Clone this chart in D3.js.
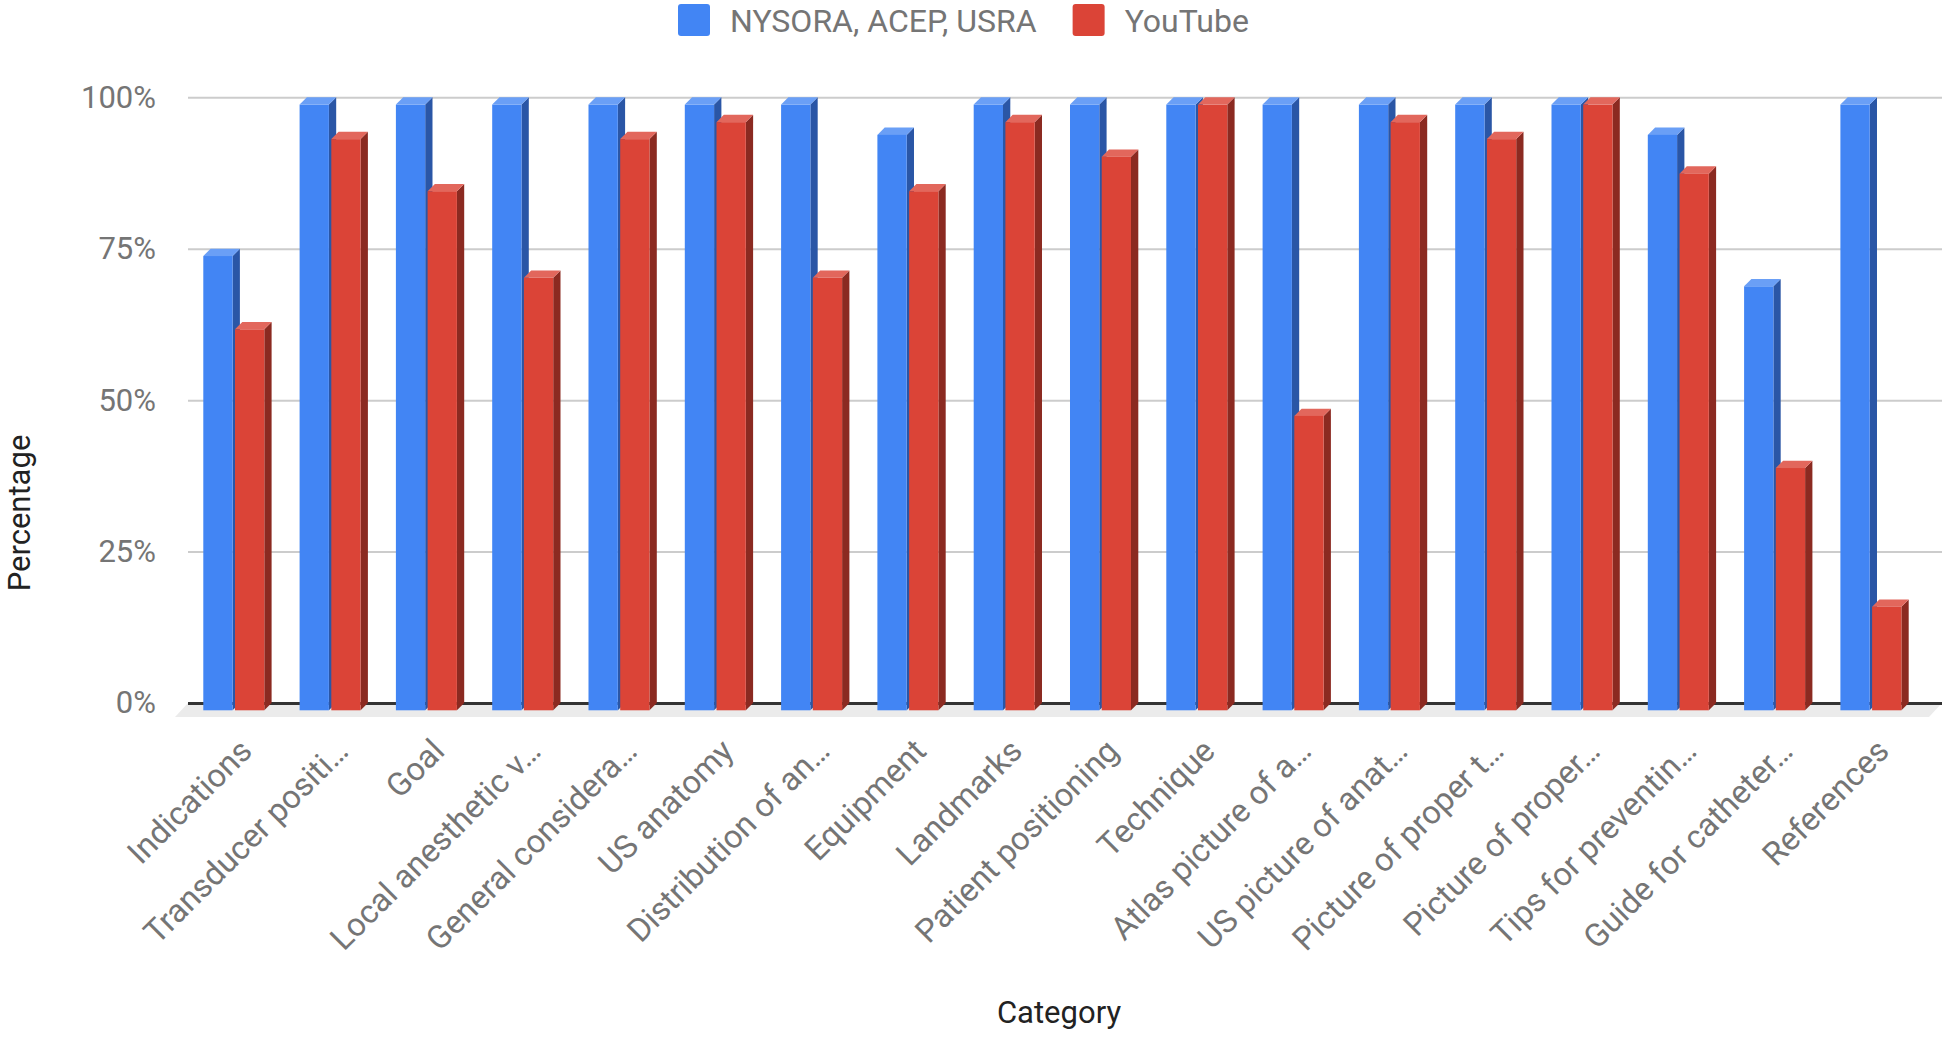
<!DOCTYPE html>
<html>
<head>
<meta charset="utf-8">
<script src="https://cdn.jsdelivr.net/npm/d3@7"></script>
<style>
  html, body { margin: 0; padding: 0; background: #fff; }
  svg { display: block; font-family: Roboto, "Noto Sans", Arial, sans-serif; }
</style>
</head>
<body>
<svg id="chart" width="1946" height="1038"></svg>
<script>
// ---- data ----
const categories = [
  "Indications", "Transducer positi\u2026", "Goal", "Local anesthetic v\u2026",
  "General considera\u2026", "US anatomy", "Distribution of an\u2026", "Equipment",
  "Landmarks", "Patient positioning", "Technique", "Atlas picture of a\u2026",
  "US picture of anat\u2026", "Picture of proper t\u2026", "Picture of proper\u2026",
  "Tips for preventin\u2026", "Guide for catheter\u2026", "References"
];
const seriesNames = ["NYSORA, ACEP, USRA", "YouTube"];
const nysoraValues = [75, 100, 100, 100, 100, 100, 100, 95, 100, 100, 100, 100, 100, 100, 100, 95, 70, 100];
const youtubeValues = [62.9, 94.3, 85.7, 71.4, 94.3, 97.1, 71.4, 85.7, 97.1, 91.4, 100, 48.6, 97.1, 94.3, 100, 88.6, 40.0, 17.1];
const yTickValues = [0, 25, 50, 75, 100];
const axisTitles = { x: "Category", y: "Percentage" };

// ---- styling ----
const colors = {
  front: ["#4285F4", "#DB4437"],
  top:   ["#6A9FF6", "#E2675C"],
  side:  ["#2A56A6", "#8B2A21"]
};
const W = 1946, H = 1038;
const wallLeft = 188, wallRight = 1942;
const depth = 7.3;
const tickFont = 31, labelFont = 32.5, legendFont = 32, titleFont = 31;

const svg = d3.select("#chart");
svg.append("rect").attr("width", W).attr("height", H).attr("fill", "#fff");

// scales
const y = d3.scaleLinear().domain([0, 100]).range([703, 97.3]);
const x = d3.scaleBand().domain(categories).range([185.65, 1919.05])
  .paddingInner(0.3665).paddingOuter(0.3665 / 2);
const x1 = d3.scaleBand().domain(seriesNames).range([0, x.bandwidth()]).paddingInner(0.076);

// floor
const floorDepth = 14;
svg.append("path")
  .attr("d", `M${wallLeft},${y(0)} L${wallRight},${y(0)} L${wallRight - floorDepth + 1},${y(0) + floorDepth} L${wallLeft - floorDepth + 1},${y(0) + floorDepth} Z`)
  .attr("fill", "#ebebeb");

// gridlines + y labels via axis
const yAxis = d3.axisLeft(y)
  .tickValues(yTickValues)
  .tickFormat(d => d + "%")
  .tickSize(-(wallRight - wallLeft))
  .tickPadding(32);
const gy = svg.append("g").attr("transform", `translate(${wallLeft},0)`).call(yAxis);
gy.select(".domain").remove();
gy.selectAll(".tick line").attr("stroke", "#cccccc").attr("stroke-width", 2);
gy.selectAll(".tick text")
  .attr("fill", "#757575")
  .style("font-size", tickFont + "px")
  .style("font-family", "Roboto, sans-serif");
gy.selectAll(".tick").filter(d => d === 0).select("line").attr("stroke", "#333").attr("stroke-width", 3);

// bars
const seriesValues = [nysoraValues, youtubeValues];
const barsG = svg.append("g");
categories.forEach((cat, i) => {
  seriesNames.forEach((s, si) => {
    const v = seriesValues[si][i];
    const w = x1.bandwidth();
    const x0 = x(cat) + x1(s);
    const yT = y(v) + depth;
    const yB = y(0) + depth;
    const g = barsG.append("g");
    g.append("path")
      .attr("d", `M${x0 + w},${yT} L${x0 + w + depth},${yT - depth} L${x0 + w + depth},${yB - depth} L${x0 + w},${yB} Z`)
      .attr("fill", colors.side[si]);
    g.append("path")
      .attr("d", `M${x0},${yT} L${x0 + depth},${yT - depth} L${x0 + w + depth},${yT - depth} L${x0 + w},${yT} Z`)
      .attr("fill", colors.top[si]);
    g.append("rect")
      .attr("x", x0).attr("y", yT).attr("width", w).attr("height", yB - yT)
      .attr("fill", colors.front[si]);
  });
});

// x labels (rotated)
const labelG = svg.append("g");
categories.forEach(cat => {
  const cx = x(cat) + x.bandwidth() / 2 + 20;
  labelG.append("text")
    .attr("transform", `translate(${cx},753) rotate(-45)`)
    .attr("text-anchor", "end")
    .attr("fill", "#757575")
    .style("font-size", labelFont + "px")
    .text(cat);
});

// axis titles
svg.append("text")
  .attr("x", 1059).attr("y", 1023)
  .attr("text-anchor", "middle")
  .attr("fill", "#222")
  .style("font-size", titleFont + "px")
  .text(axisTitles.x);
svg.append("text")
  .attr("transform", "translate(30,513) rotate(-90)")
  .attr("text-anchor", "middle")
  .attr("fill", "#222")
  .style("font-size", titleFont + "px")
  .text(axisTitles.y);

// legend
const legendG = svg.append("g");
let lx = 678;
seriesNames.forEach((s, si) => {
  legendG.append("rect")
    .attr("x", lx).attr("y", 4).attr("width", 32).attr("height", 32).attr("rx", 3)
    .attr("fill", colors.front[si]);
  const t = legendG.append("text")
    .attr("x", lx + 52).attr("y", 31.5)
    .attr("fill", "#757575")
    .style("font-size", legendFont + "px")
    .text(s);
  lx = lx + 52 + t.node().getComputedTextLength() + 36;
});
</script>
</body>
</html>
